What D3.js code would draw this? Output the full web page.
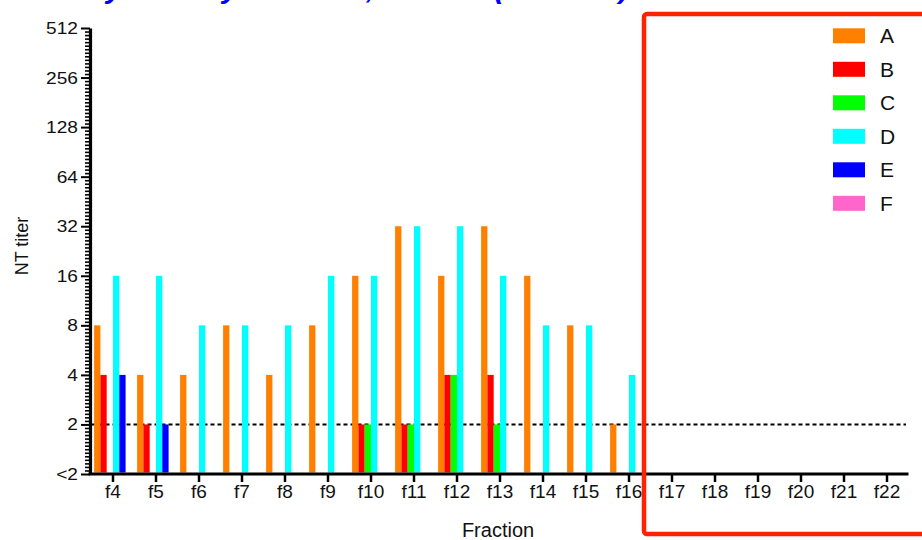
<!DOCTYPE html>
<html>
<head>
<meta charset="utf-8">
<script src="https://cdn.jsdelivr.net/npm/d3@7/dist/d3.min.js"></script>
<style>
  html, body { margin: 0; padding: 0; background: #fff; }
  svg { display: block; font-family: "Liberation Sans", Arial, sans-serif; }
</style>
</head>
<body>
<svg id="chart" width="922" height="540"></svg>
<script>
// ---------- data ----------
const categories = ["f4","f5","f6","f7","f8","f9","f10","f11","f12","f13","f14","f15","f16","f17","f18","f19","f20","f21","f22"];
const seriesNames = ["A","B","C","D","E","F"];
const valuesA = [8, 4, 4, 8, 4, 8, 16, 32, 16, 32, 16, 8, 2, null, null, null, null, null, null];
const valuesB = [4, 2, null, null, null, null, 2, 2, 4, 4, null, null, null, null, null, null, null, null, null];
const valuesC = [null, null, null, null, null, null, 2, 2, 4, 2, null, null, null, null, null, null, null, null, null];
const valuesD = [16, 16, 8, 8, 8, 16, 16, 32, 32, 16, 8, 8, 4, null, null, null, null, null, null];
const valuesE = [4, 2, null, null, null, null, null, null, null, null, null, null, null, null, null, null, null, null, null];
const valuesF = [null, null, null, null, null, null, null, null, null, null, null, null, null, null, null, null, null, null, null];
const yTickValues = [1, 2, 4, 8, 16, 32, 64, 128, 256, 512];
const yTickLabels = ["<2", "2", "4", "8", "16", "32", "64", "128", "256", "512"];
const thresholdValue = 2;
const titleFragments = ["y", "y", ",", "(", ")"];

const seriesValues = [valuesA, valuesB, valuesC, valuesD, valuesE, valuesF];
const seriesColors = ["#ff8000", "#ff0000", "#00ff00", "#00ffff", "#0000ff", "#ff66cc"];

// ---------- layout ----------
const svg = d3.select("#chart");
const axisX = 90, plotLeft = 91.5, plotRight = 908.5;
const yTop = 28, yBottom = 474;

const y = d3.scaleLog().base(2).domain([1, 512]).range([yBottom, yTop]);
const x0 = d3.scaleBand().domain(categories).range([plotLeft, plotRight]).padding(0);
const x1 = d3.scaleBand().domain(seriesNames).range([2.6, x0.bandwidth() - 2.6]).padding(0);

// cropped blue title (only descenders visible)
const titleX = [106, 222, 366, 494, 619];
svg.append("g").selectAll("text").data(titleFragments).join("text")
  .attr("x", (d, i) => titleX[i]).attr("y", -2)
  .attr("fill", "#0000ff").attr("font-weight", "bold").attr("font-size", 30)
  .attr("font-style", "italic")
  .text(d => d);

// threshold dashed line
svg.append("line")
  .attr("x1", plotLeft).attr("x2", 906)
  .attr("y1", y(thresholdValue)).attr("y2", y(thresholdValue))
  .attr("stroke", "#000").attr("stroke-width", 2)
  .attr("stroke-dasharray", "4,3");

// bars
const groups = svg.append("g").selectAll("g").data(categories).join("g")
  .attr("transform", c => `translate(${x0(c)},0)`);
groups.selectAll("rect")
  .data((c, ci) => seriesNames.map((s, si) => ({ s, v: seriesValues[si][ci], color: seriesColors[si] })).filter(d => d.v != null))
  .join("rect")
  .attr("x", d => x1(d.s))
  .attr("width", x1.bandwidth())
  .attr("y", d => y(d.v))
  .attr("height", d => yBottom - 1.5 - y(d.v))
  .attr("fill", d => d.color);

// y axis: minor ticks
const minorVals = [];
for (let k = 0; k < 9; k++) for (let j = 1; j < 14; j++) minorVals.push(Math.pow(2, k + j / 14));
const yMinor = svg.append("g").attr("transform", `translate(${axisX},0)`)
  .call(d3.axisLeft(y).tickValues(minorVals).tickSize(5).tickFormat(""));
yMinor.select(".domain").remove();
yMinor.selectAll("line").attr("stroke", "#000").attr("stroke-width", 1.6);

// y axis: major ticks
const yAxis = svg.append("g").attr("transform", `translate(${axisX},0)`)
  .call(d3.axisLeft(y).tickValues(yTickValues).tickSize(9).tickSizeOuter(0)
    .tickFormat((d, i) => yTickLabels[i]));
yAxis.select(".domain").attr("stroke", "#000").attr("stroke-width", 3.2);
yAxis.selectAll(".tick line").attr("stroke", "#000").attr("stroke-width", 2);
yAxis.selectAll(".tick text")
  .attr("x", null).attr("dy", null)
  .attr("font-size", 16.5).attr("fill", "#111")
  .attr("text-anchor", "end")
  .attr("dominant-baseline", "central")
  .attr("transform", "translate(-12,0) scale(1.16,1)");

// x axis
const xAxis = svg.append("g").attr("transform", `translate(0,${yBottom})`)
  .call(d3.axisBottom(x0).tickSize(8).tickSizeOuter(0));
xAxis.select(".domain").attr("stroke", "#000").attr("stroke-width", 3.2)
  .attr("d", `M${axisX - 1.5},0H${plotRight}`);
xAxis.selectAll(".tick line").attr("stroke", "#000").attr("stroke-width", 2.5);
xAxis.selectAll(".tick text")
  .attr("y", 24).attr("dy", null)
  .attr("font-size", 19).attr("fill", "#111");

// axis titles
svg.append("text")
  .attr("transform", `translate(28,246) rotate(-90)`)
  .attr("text-anchor", "middle").attr("font-size", 18).attr("fill", "#111")
  .text("NT titer");
svg.append("text")
  .attr("x", 498).attr("y", 537)
  .attr("text-anchor", "middle").attr("font-size", 20).attr("fill", "#111")
  .text("Fraction");

// legend
const legend = svg.append("g").selectAll("g").data(seriesNames).join("g")
  .attr("transform", (d, i) => `translate(833,${35.8 + i * 33.5})`);
legend.append("rect")
  .attr("x", 0).attr("y", -7.5).attr("width", 32).attr("height", 15)
  .attr("fill", (d, i) => seriesColors[i]);
legend.append("text")
  .attr("x", 47).attr("y", 0).attr("dominant-baseline", "central")
  .attr("font-size", 21).attr("fill", "#111")
  .text(d => d);

// red highlight box
svg.append("rect")
  .attr("x", 644).attr("y", 14).attr("width", 300).attr("height", 520)
  .attr("rx", 3)
  .attr("fill", "none").attr("stroke", "#ff2200").attr("stroke-width", 4.5);
</script>
</body>
</html>
